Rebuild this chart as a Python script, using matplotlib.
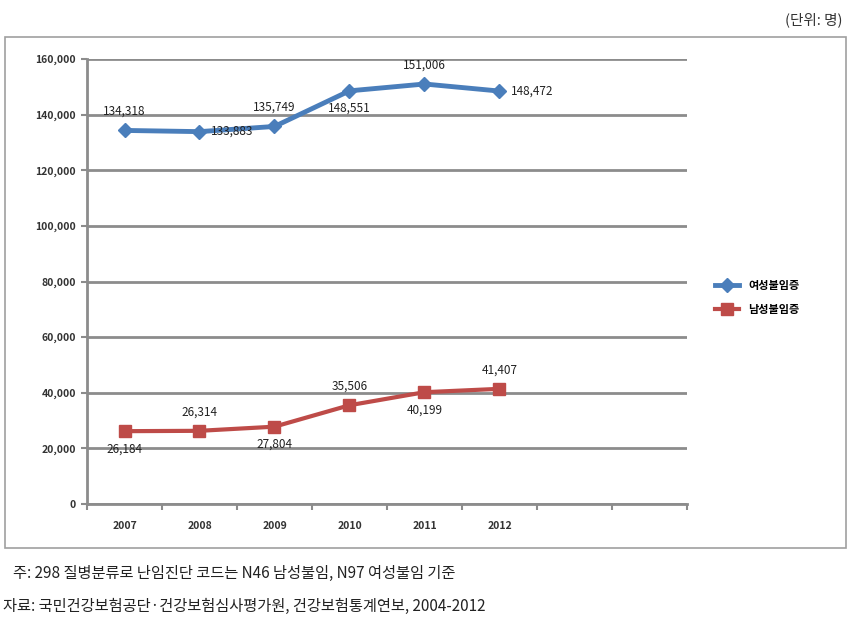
import numpy as np
import matplotlib
matplotlib.use("Agg")
import matplotlib.pyplot as plt
import matplotlib.patches as mpatches
from matplotlib.ticker import FuncFormatter

plt.rcParams['font.family'] = ['Noto Sans CJK KR', 'DejaVu Sans']

# données
years = ['2007', '2008', '2009', '2010', '2011', '2012', '', '']
female = [134318, 133883, 135749, 148551, 151006, 148472]
male = [26184, 26314, 27804, 35506, 40199, 41407]
female_label = '여성불임증'
male_label = '남성불임증'
# position des étiquettes : a=au-dessus, b=en dessous, r=à droite
female_pos = ['a', 'r', 'a', 'b', 'a', 'r']
male_pos = ['b', 'a', 'b', 'a', 'b', 'a']

blue = '#4a7ebb'
red = '#be4b48'
grid_c = '#8c8c8c'

fig = plt.figure(figsize=(8.64, 6.25), dpi=100)

# cadre extérieur
frame = mpatches.Rectangle((0.006, 0.123), 0.973, 0.818, transform=fig.transFigure,
                           fill=False, edgecolor='#a0a0a0', linewidth=1.2)
fig.patches.append(frame)

ax = fig.add_axes([0.1007, 0.1936, 0.6944, 0.712])
x = np.arange(len(female))

ax.plot(x, female, color=blue, lw=3.5, marker='D', markersize=7, label=female_label, zorder=3)
ax.plot(x, male, color=red, lw=3, marker='s', markersize=9, label=male_label, zorder=3)

def annotate(vals, pos):
    for xi, v, p in zip(x, vals, pos):
        txt = f'{v:,}'
        if p == 'a':
            ax.annotate(txt, (xi, v), xytext=(0, 9), textcoords='offset points',
                        ha='center', va='bottom', fontsize=8.5, color='#222222')
        elif p == 'b':
            ax.annotate(txt, (xi, v), xytext=(0, -8), textcoords='offset points',
                        ha='center', va='top', fontsize=8.5, color='#222222')
        else:
            ax.annotate(txt, (xi, v), xytext=(8, 0), textcoords='offset points',
                        ha='left', va='center', fontsize=8.5, color='#222222')

annotate(female, female_pos)
annotate(male, male_pos)

ax.set_xlim(-0.5, len(years) - 0.5)
ax.set_ylim(0, 160000)
ax.set_yticks(np.arange(0, 160001, 20000))
ax.yaxis.set_major_formatter(FuncFormatter(lambda v, p: f'{int(v):,}'))
ax.set_xticks(np.arange(len(years)))
ax.set_xticklabels(years)
ax.set_xticks(np.arange(-0.5, len(years), 1), minor=True)
ax.tick_params(axis='x', which='major', length=0, pad=12, labelsize=7.5)
ax.tick_params(axis='x', which='minor', length=4, color=grid_c, width=1.5)
ax.tick_params(axis='y', length=4, color=grid_c, width=1.5, labelsize=7.5, pad=4)
for lab in ax.get_xticklabels() + ax.get_yticklabels():
    lab.set_fontweight('bold')
    lab.set_color('#333333')

ax.yaxis.grid(True, color=grid_c, linewidth=2)
ax.set_axisbelow(True)
for s in ['top', 'right']:
    ax.spines[s].set_visible(False)
for s in ['left', 'bottom']:
    ax.spines[s].set_color(grid_c)
    ax.spines[s].set_linewidth(2)

leg = ax.legend(loc='center left', bbox_to_anchor=(1.03, 0.465), frameon=False,
                fontsize=8, handlelength=2.2, labelspacing=1.0)
for t in leg.get_texts():
    t.set_fontweight('bold')

fig.text(0.975, 0.968, '(단위: 명)', ha='right', va='center', fontsize=10.5, color='#333333')
fig.text(0.015, 0.083, '주: 298 질병분류로 난임진단 코드는 N46 남성불임, N97 여성불임 기준',
         ha='left', va='center', fontsize=11, color='#222222')
fig.text(0.003, 0.030, '자료: 국민건강보험공단·건강보험심사평가원, 건강보험통계연보, 2004-2012',
         ha='left', va='center', fontsize=11, color='#222222')

fig.savefig('out.png', dpi=100)
